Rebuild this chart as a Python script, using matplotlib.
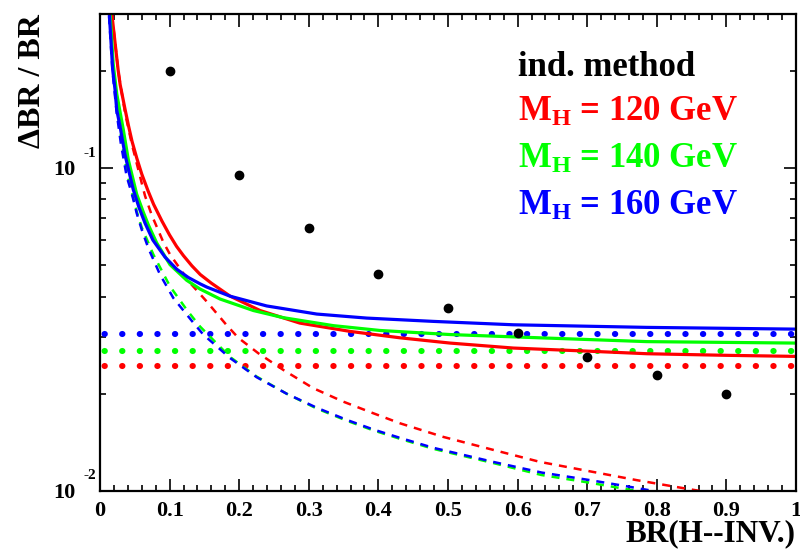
import matplotlib
matplotlib.use("Agg")
import matplotlib.pyplot as plt
from matplotlib.ticker import FixedLocator, LogLocator, NullFormatter, MultipleLocator

plt.rcParams["font.family"] = ["Liberation Serif", "DejaVu Serif"]
plt.rcParams["font.weight"] = "bold"
plt.rcParams["mathtext.fontset"] = "custom"
plt.rcParams["mathtext.rm"] = "Liberation Serif:bold"
plt.rcParams["mathtext.it"] = "Liberation Serif:bold"
plt.rcParams["mathtext.bf"] = "Liberation Serif:bold"
plt.rcParams["mathtext.default"] = "rm"

CZERWONY = "#ff0000"
ZIELONY = "#00ff00"
NIEBIESKI = "#0000ff"

# punkty metody niezaleznej
br_punkty = [0.1, 0.2, 0.3, 0.4, 0.5, 0.6, 0.7, 0.8, 0.9]
dbr_punkty = [0.200, 0.0951, 0.065, 0.047, 0.0369, 0.0309, 0.0259, 0.0229, 0.0200]

# stale poziomy (kropkowane)
zakres_br = [0.0, 1.0]
poziom_120 = 0.0244
poziom_140 = 0.0272
poziom_160 = 0.0306

# M_H = 120 GeV
br_120_calk = [0.017, 0.026, 0.029, 0.036, 0.041, 0.046, 0.053, 0.060, 0.069, 0.077,
               0.089, 0.100, 0.110, 0.120, 0.132, 0.144, 0.160, 0.187, 0.230, 0.287,
               0.359, 0.431, 0.503, 0.594, 0.700, 0.786, 0.900, 1.000]
dbr_120_calk = [0.300, 0.2015, 0.181, 0.152, 0.135, 0.121, 0.107, 0.0958, 0.0850, 0.0772,
                0.0685, 0.0620, 0.0572, 0.0535, 0.0498, 0.0468, 0.0440, 0.0401, 0.0362, 0.0331,
                0.0312, 0.0298, 0.0287, 0.0277, 0.0271, 0.0266, 0.0263, 0.0261]
br_120_stat = [0.0172, 0.0263, 0.036, 0.046, 0.0599, 0.0647, 0.0743, 0.0909, 0.1006, 0.1293,
               0.1533, 0.182, 0.1987, 0.2274, 0.2634, 0.3065, 0.3496, 0.3927, 0.431, 0.4932,
               0.5651, 0.6322, 0.704, 0.7711, 0.8381, 0.862, 0.90]
dbr_120_stat = [0.299, 0.199, 0.148, 0.118, 0.0899, 0.0820, 0.0715, 0.0590, 0.0540, 0.0441,
                0.0386, 0.0326, 0.0298, 0.0267, 0.0237, 0.0208, 0.0189, 0.0174, 0.0162, 0.0147,
                0.0134, 0.0123, 0.0115, 0.0108, 0.0102, 0.0100, 0.0097]

# M_H = 140 GeV
br_140_calk = [0.0145, 0.019, 0.024, 0.0335, 0.0407, 0.0527, 0.0622, 0.0694, 0.0815, 0.1006,
               0.1246, 0.1437, 0.1724, 0.2203, 0.2634, 0.3352, 0.4023, 0.5029, 0.5938, 0.7855,
               1.000]
dbr_140_calk = [0.300, 0.210, 0.1700, 0.1314, 0.1060, 0.0830, 0.0730, 0.0667, 0.0586, 0.0502,
                0.0449, 0.0422, 0.0393, 0.0362, 0.0344, 0.0325, 0.0314, 0.0305, 0.0300, 0.0290,
                0.0287]
br_140_stat = [0.0135, 0.019, 0.025, 0.031, 0.040, 0.0478, 0.0527, 0.0599, 0.0766, 0.1006,
               0.1246, 0.1437, 0.1868, 0.2251, 0.2682, 0.3114, 0.3545, 0.3927, 0.431, 0.4789,
               0.5651, 0.6346, 0.704, 0.7711, 0.80]
dbr_140_stat = [0.298, 0.200, 0.150, 0.121, 0.094, 0.081, 0.0735, 0.0655, 0.0540, 0.0430,
                0.0364, 0.0323, 0.0260, 0.0226, 0.0200, 0.0180, 0.0165, 0.0154, 0.0145, 0.0135,
                0.0122, 0.0112, 0.0106, 0.0100, 0.0098]

# M_H = 160 GeV
br_160_calk = [0.0134, 0.0182, 0.0216, 0.024, 0.0287, 0.0359, 0.0478, 0.0560, 0.0647, 0.0760,
               0.0934, 0.1102, 0.1270, 0.1437, 0.1533, 0.1868, 0.2395, 0.3114, 0.3832, 0.4789,
               0.5938, 0.7855, 1.000]
dbr_160_calk = [0.300, 0.2015, 0.1748, 0.1515, 0.1350, 0.1100, 0.0857, 0.0755, 0.0675, 0.0598,
                0.0530, 0.0486, 0.0458, 0.0438, 0.0428, 0.0401, 0.0374, 0.0353, 0.0343, 0.0335,
                0.0327, 0.0321, 0.0317]
br_160_stat = [0.013, 0.018, 0.024, 0.030, 0.0384, 0.0431, 0.0478, 0.0527, 0.0599, 0.0694,
               0.0862, 0.1053, 0.134, 0.1484, 0.1868, 0.2251, 0.2682, 0.3114, 0.3545, 0.3927,
               0.431, 0.4789, 0.5651, 0.6346, 0.704, 0.7496, 0.795, 0.82]
dbr_160_stat = [0.295, 0.199, 0.148, 0.119, 0.094, 0.087, 0.080, 0.0725, 0.0645, 0.0565,
                0.0468, 0.0396, 0.0332, 0.0305, 0.0258, 0.0225, 0.0200, 0.0181, 0.0166, 0.0155,
                0.0146, 0.0136, 0.0123, 0.0114, 0.0108, 0.0104, 0.0100, 0.0098]

x_ticki = [0.0, 0.1, 0.2, 0.3, 0.4, 0.5, 0.6, 0.7, 0.8, 0.9, 1.0]
x_etykiety = ["0", "0.1", "0.2", "0.3", "0.4", "0.5", "0.6", "0.7", "0.8", "0.9", "1"]
y_ticki = [0.01, 0.1]
y_wykladniki = ["-2", "-1"]

figura = plt.figure(figsize=(8, 5.51), dpi=100)
os = figura.add_axes([0.125, 0.109, 0.87, 0.8657])
os.set_yscale("log")

styl_kropki = dict(lw=4.4, ls=(2.14, (0.05, 2.83)), dash_capstyle="round")
styl_kreski = dict(lw=1.8, ls=(0, (3.2, 2.8)))
styl_ciagly = dict(lw=2.3, solid_capstyle="butt")

for poziom, kolor in [(poziom_120, CZERWONY), (poziom_140, ZIELONY), (poziom_160, NIEBIESKI)]:
    os.plot(zakres_br, [poziom, poziom], color=kolor, **styl_kropki)

os.plot(br_120_stat, dbr_120_stat, color=CZERWONY, **styl_kreski)
os.plot(br_140_stat, dbr_140_stat, color=ZIELONY, **styl_kreski)
os.plot(br_160_stat, dbr_160_stat, color=NIEBIESKI, **styl_kreski)

os.plot(br_120_calk, dbr_120_calk, color=CZERWONY, **styl_ciagly)
os.plot(br_140_calk, dbr_140_calk, color=ZIELONY, **styl_ciagly)
os.plot(br_160_calk, dbr_160_calk, color=NIEBIESKI, **styl_ciagly)

os.plot(br_punkty, dbr_punkty, "o", color="black", ms=6, zorder=5)

os.set_xlim(0, 1)
os.set_ylim(0.01, 0.3)

os.xaxis.set_major_locator(FixedLocator(x_ticki))
os.set_xticklabels(x_etykiety, fontsize=16, fontweight="bold")
os.xaxis.set_minor_locator(MultipleLocator(0.02))
os.yaxis.set_major_locator(FixedLocator(y_ticki))
os.yaxis.set_major_formatter(NullFormatter())
os.yaxis.set_minor_locator(LogLocator(base=10, subs=[2, 3, 4, 5, 6, 7, 8, 9]))
os.yaxis.set_minor_formatter(NullFormatter())

os.tick_params(which="both", direction="in", top=True, right=True, width=1.2)
os.tick_params(which="major", length=9, pad=7)
os.tick_params(which="minor", length=4)
for spina in os.spines.values():
    spina.set_linewidth(1.6)

# etykiety osi y w postaci 10 z wykladnikiem
for wartosc, wykladnik in zip(y_ticki, y_wykladniki):
    os.annotate("10", xy=(0, wartosc), xycoords=("axes fraction", "data"),
                xytext=(-36, -2), textcoords="offset pixels",
                ha="center", va="center", fontsize=16, fontweight="bold")
    os.annotate(wykladnik, xy=(0, wartosc), xycoords=("axes fraction", "data"),
                xytext=(-10, 15), textcoords="offset pixels",
                ha="center", va="center", fontsize=11, fontweight="bold")

os.set_xlabel("BR(H--INV.)", fontsize=22.5, fontweight="bold", loc="right", labelpad=-1)
os.set_ylabel("\u0394BR / BR", fontsize=23, fontweight="bold", loc="top", labelpad=31)

os.text(0.6475, 0.862, "ind. method", transform=figura.transFigure,
        fontsize=25, fontweight="bold", color="black", va="baseline")
opisy = [("M$_{H}$ = 120 GeV", CZERWONY, 0.780),
         ("M$_{H}$ = 140 GeV", ZIELONY, 0.696),
         ("M$_{H}$ = 160 GeV", NIEBIESKI, 0.610)]
for tekst, kolor, y_fig in opisy:
    os.text(0.6475, y_fig, tekst, transform=figura.transFigure,
            fontsize=25, fontweight="bold", color=kolor, va="baseline")

figura.savefig("out.png", dpi=100)
